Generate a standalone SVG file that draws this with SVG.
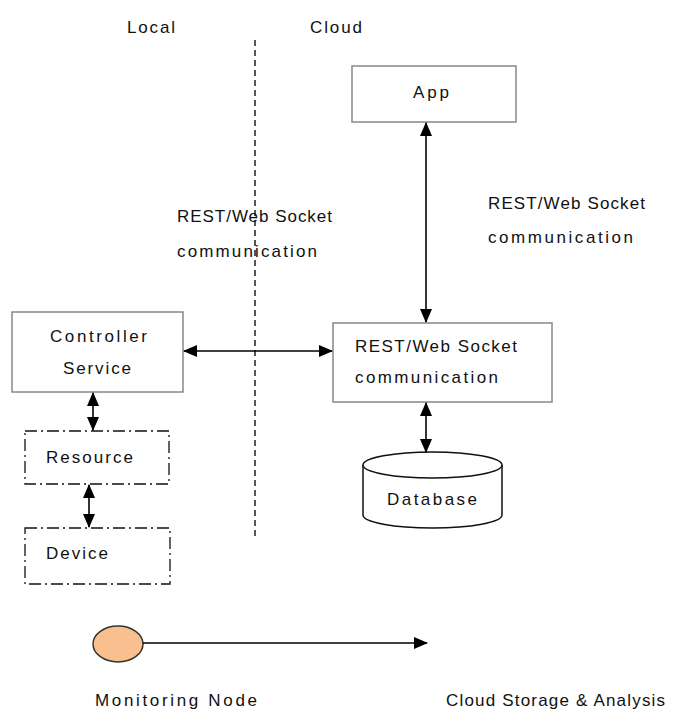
<svg xmlns="http://www.w3.org/2000/svg" width="674" height="709" viewBox="0 0 674 709">
<defs>
<marker id="ah" viewBox="0 0 14 12" refX="13" refY="6" markerWidth="14" markerHeight="12" markerUnits="userSpaceOnUse" orient="auto-start-reverse">
<path d="M0,0 L14,6 L0,12 Z" fill="#000"/>
</marker>
<style>
text{font-family:"Liberation Sans",Arial,sans-serif;font-size:17px;fill:#111;}
.box{fill:#fff;stroke:#888;stroke-width:1.5;}
.dd{fill:#fff;stroke:#111;stroke-width:1.3;stroke-dasharray:12 4 2 4;}
.con{stroke:#000;stroke-width:1.6;fill:none;}
</style>
</defs>
<rect width="674" height="709" fill="#fff"/>
<line x1="255" y1="40" x2="255" y2="538" stroke="#555" stroke-width="2" stroke-dasharray="6 4"/>
<text x="127" y="33" textLength="48" lengthAdjust="spacing">Local</text>
<text x="310" y="33" textLength="52" lengthAdjust="spacing">Cloud</text>
<text x="177" y="222" textLength="155" lengthAdjust="spacing">REST/Web Socket</text>
<text x="177" y="257" textLength="140" lengthAdjust="spacing">communication</text>
<text x="488" y="209" textLength="157" lengthAdjust="spacing">REST/Web Socket</text>
<text x="488" y="243" textLength="145" lengthAdjust="spacing">communication</text>
<g id="app">
<rect class="box" x="352" y="66" width="164" height="56"/>
<text x="413" y="98" textLength="36" lengthAdjust="spacing">App</text>
</g>
<g id="rest">
<rect class="box" x="333" y="323" width="219" height="79"/>
<text x="355" y="352" textLength="162" lengthAdjust="spacing">REST/Web Socket</text>
<text x="355" y="383" textLength="143" lengthAdjust="spacing">communication</text>
</g>
<g id="database">
<path d="M363,465 L363,515 A69.5,13 0 0 0 502,515 L502,465" fill="#fff" stroke="#111" stroke-width="1.5"/>
<ellipse cx="432.5" cy="465" rx="69.5" ry="13" fill="#fff" stroke="#111" stroke-width="1.5"/>
<text x="387" y="505" textLength="90" lengthAdjust="spacing">Database</text>
</g>
<g id="controller">
<rect class="box" x="12" y="312" width="171" height="80"/>
<text x="50" y="342" textLength="97" lengthAdjust="spacing">Controller</text>
<text x="63" y="374" textLength="68" lengthAdjust="spacing">Service</text>
</g>
<g id="resource">
<rect class="dd" x="25" y="431" width="144" height="53"/>
<text x="46" y="463" textLength="87" lengthAdjust="spacing">Resource</text>
</g>
<g id="device">
<rect class="dd" x="25" y="528" width="145" height="56"/>
<text x="46" y="559" textLength="62" lengthAdjust="spacing">Device</text>
</g>
<g id="monitoring">
<ellipse cx="118" cy="644" rx="25" ry="18" fill="#f9bf8f" stroke="#333" stroke-width="1.5"/>
<text x="95" y="706" textLength="162" lengthAdjust="spacing">Monitoring Node</text>
</g>
<g id="cloudstorage">
<text x="446" y="706" textLength="219" lengthAdjust="spacing">Cloud Storage &amp; Analysis</text>
</g>
<g id="connectors">
<line class="con" x1="426" y1="123" x2="426" y2="322" marker-start="url(#ah)" marker-end="url(#ah)"/>
<line class="con" x1="426" y1="403" x2="426" y2="452" marker-start="url(#ah)" marker-end="url(#ah)"/>
<line class="con" x1="184" y1="351" x2="332" y2="351" marker-start="url(#ah)" marker-end="url(#ah)"/>
<line class="con" x1="93" y1="393" x2="93" y2="430" marker-start="url(#ah)" marker-end="url(#ah)"/>
<line class="con" x1="89" y1="485" x2="89" y2="527" marker-start="url(#ah)" marker-end="url(#ah)"/>
<line class="con" x1="143" y1="643" x2="427" y2="643" stroke-width="2" marker-end="url(#ah)"/>
</g>
</svg>
